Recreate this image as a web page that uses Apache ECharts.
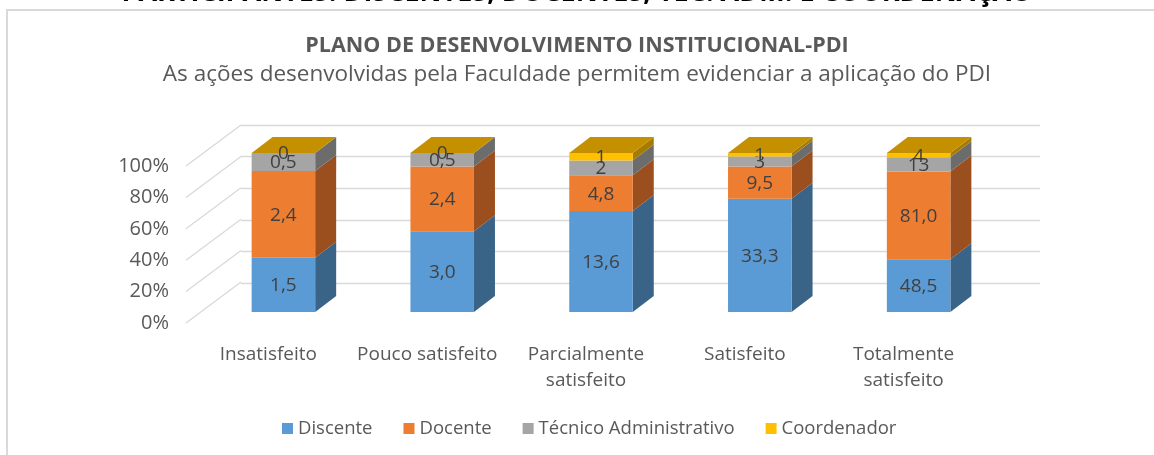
<!DOCTYPE html>
<html><head><meta charset="utf-8">
<script src="https://cdn.jsdelivr.net/npm/echarts@6/dist/echarts.min.js"></script>
<style>html,body{margin:0;padding:0;background:#fff}#c{width:1154px;height:455px}</style>
</head><body><div id="c"></div>
<script>
const categories = ['Insatisfeito', 'Pouco satisfeito', 'Parcialmente\nsatisfeito', 'Satisfeito', 'Totalmente\nsatisfeito'];
const discente = [1.5, 3.0, 13.6, 33.3, 48.5];
const docente = [2.4, 2.4, 4.8, 9.5, 81.0];
const tecnico = [0.5, 0.5, 2, 3, 13];
const coordenador = [0, 0, 1, 1, 4];
const tickLabels = ['0%', '20%', '40%', '60%', '80%', '100%'];
const tickValues = [0, 20, 40, 60, 80, 100];

const seriesDefs = [
  {name: 'Discente', data: discente, front: '#5B9BD5', side: '#3A6388', top: '#4F86B8', fixed: true},
  {name: 'Docente', data: docente, front: '#ED7D31', side: '#9B4E1E', top: '#C9692A', fixed: true},
  {name: 'Técnico Administrativo', data: tecnico, front: '#A5A5A5', side: '#6C6C6C', top: '#8C8C8C', fixed: false},
  {name: 'Coordenador', data: coordenador, front: '#FFC000', side: '#A67C00', top: '#C49000', fixed: false}
];
const totals = categories.map((c, i) => seriesDefs.reduce((s, d) => s + d.data[i], 0));

const DX = 21, DY = -16;
function fmt(v, fixed) {
  return (fixed ? v.toFixed(1) : String(v)).replace('.', ',');
}

const chart = echarts.init(document.getElementById('c'), null, {renderer: 'canvas'});

const series = [];
series.push({
  type: 'custom', xAxisIndex: 1, yAxisIndex: 1, silent: true,
  data: tickValues.map(v => [0, v]),
  renderItem: function (params, api) {
    const p = api.coord([0, api.value(1)]);
    return {type: 'line', shape: {x1: p[0] + 10, y1: p[1], x2: p[0] + 65, y2: p[1] - 41},
      style: {stroke: '#D9D9D9', lineWidth: 1.3}};
  }
});

seriesDefs.forEach((d, si) => {
  series.push({
    name: d.name, type: 'custom', xAxisIndex: 0, yAxisIndex: 0,
    data: d.data.map((v, i) => {
      let base = 0;
      for (let k = 0; k < si; k++) base += seriesDefs[k].data[i];
      return [i, base / totals[i] * 100, (base + v) / totals[i] * 100, v];
    }),
    encode: {x: 0, y: [1, 2]},
    itemStyle: {color: d.front},
    z: 10 + si,
    renderItem: function (params, api) {
      const i = api.value(0);
      const lo = api.coord([i, api.value(1)]);
      const hi = api.coord([i, api.value(2)]);
      const bw = api.size([1, 0])[0] * 0.4;
      const x0 = lo[0] - bw / 2, x1 = lo[0] + bw / 2;
      const y0 = lo[1], y1 = hi[1];
      const children = [];
      if (y0 - y1 > 0.01) {
        children.push({type: 'polygon', shape: {points: [[x1, y0], [x1 + DX, y0 + DY], [x1 + DX, y1 + DY], [x1, y1]]},
          style: {fill: d.side}});
        children.push({type: 'rect', shape: {x: x0, y: y1, width: bw, height: y0 - y1}, style: {fill: d.front}});
      }
      const isTop = si === seriesDefs.length - 1;
      if (isTop) {
        children.push({type: 'polygon', shape: {points: [[x0, y1], [x0 + DX, y1 + DY], [x1 + DX, y1 + DY], [x1, y1]]},
          style: {fill: d.top}});
      }
      const raw = api.value(3);
      children.push({type: 'text', z2: 100, style: {text: fmt(raw, d.fixed), x: lo[0], y: (y0 + y1) / 2 + 1,
        align: 'center', verticalAlign: 'middle', fill: '#404040', fontSize: 19, fontFamily: 'Open Sans'}});
      return {type: 'group', children: children};
    }
  });
});

chart.setOption({
  animation: false,
  title: [
    {text: 'PLANO DE DESENVOLVIMENTO INSTITUCIONAL-PDI', left: 'center', top: 30,
      textStyle: {fontFamily: 'Open Sans', fontWeight: 'bold', fontSize: 21.5, color: '#595959'}},
    {text: 'As ações desenvolvidas pela Faculdade permitem evidenciar a aplicação do PDI', left: 'center', top: 58,
      textStyle: {fontFamily: 'Open Sans', fontWeight: 'normal', fontSize: 22.5, color: '#595959'}}
  ],
  graphic: [
    {type: 'text', left: 'center', top: -20, style: {text: 'PARTICIPANTES: DISCENTES, DOCENTES, TEC. ADM. E COORDENAÇÃO',
      fontFamily: 'Open Sans', fontWeight: 'bold', fontSize: 27, fill: '#000'}},
    {type: 'rect', shape: {x: 7, y: 10, width: 1160, height: 460}, style: {fill: 'none', stroke: '#D9D9D9', lineWidth: 2}}
  ],
  legend: {
    bottom: 12, left: 277, itemWidth: 11, itemHeight: 11, itemGap: 31, icon: 'rect',
    textStyle: {fontFamily: 'Open Sans', fontSize: 18.5, color: '#595959'},
    data: seriesDefs.map(d => d.name)
  },
  grid: [
    {left: 204, right: 1154 - 998, top: 153, height: 159},
    {left: 176, right: 1154 - 998, top: 166, height: 157},
    {left: 241, right: 1154 - 1040, top: 125, height: 158}
  ],
  xAxis: [
    {type: 'category', gridIndex: 0, data: categories, axisLine: {show: false}, axisTick: {show: false},
      axisLabel: {margin: 30, padding: [0, 30, 0, 0], fontFamily: 'Open Sans', fontSize: 19, color: '#595959', lineHeight: 26, interval: 0}},
    {type: 'value', gridIndex: 1, min: 0, max: 1, show: false},
    {type: 'value', gridIndex: 2, min: 0, max: 1, show: false}
  ],
  yAxis: [
    {type: 'value', gridIndex: 0, min: 0, max: 100, interval: 20, show: false},
    {type: 'value', gridIndex: 1, min: 0, max: 100, interval: 20, splitLine: {show: false},
      axisLine: {show: false}, axisTick: {show: false},
      axisLabel: {formatter: (v) => tickLabels[tickValues.indexOf(v)], margin: 7, fontFamily: 'Open Sans', fontSize: 20, color: '#595959'}},
    {type: 'value', gridIndex: 2, min: 0, max: 100, interval: 20, axisLabel: {show: false},
      axisLine: {show: false}, axisTick: {show: false}, splitLine: {lineStyle: {color: '#D9D9D9', width: 1.3}}}
  ],
  series: series
});
</script></body></html>
